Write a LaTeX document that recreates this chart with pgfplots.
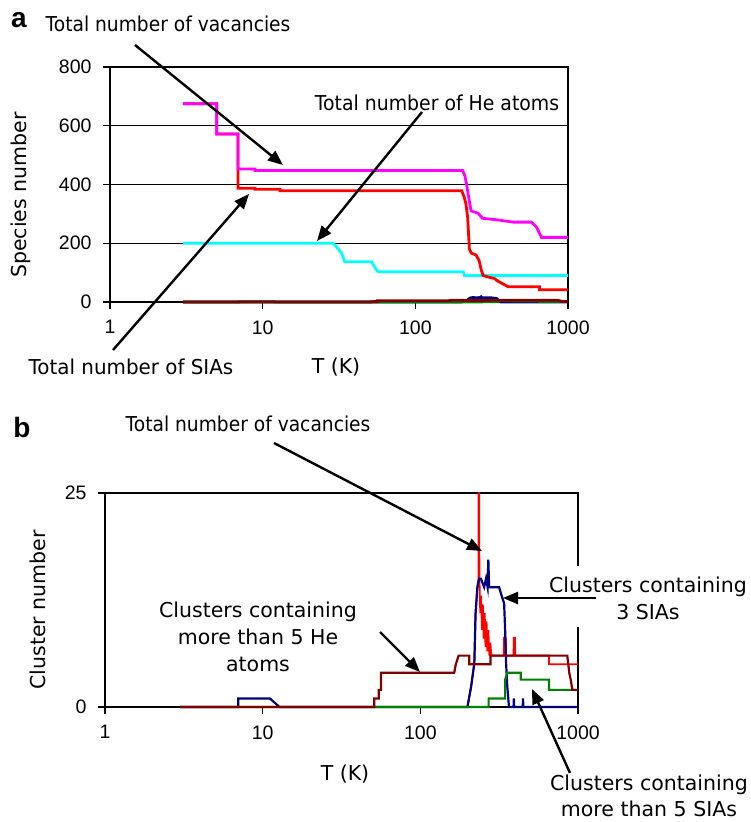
\documentclass[border=0pt]{standalone}
\usepackage{fontspec}
\setmainfont{Liberation Sans}
\newfontfamily\comic{DejaVu Sans}
\usepackage{pgfplots}
\pgfplotsset{compat=1.18}
\usetikzlibrary{arrows.meta}

\definecolor{cMag}{HTML}{FF00FF}
\definecolor{cRed}{HTML}{FF0000}
\definecolor{cCyan}{HTML}{00FFFF}
\definecolor{cNavy}{HTML}{000080}
\definecolor{cDark}{HTML}{800000}
\definecolor{cGreen}{HTML}{008000}

\newcommand\ann{\comic\fontsize{20.5}{24}\selectfont}

% cluster series, shared by both panels
\newcommand\navydata{(3,0) (7,0) (7,1) (11.1,1) (12.8,0) (199,0) (210,2.4) (220,5.1) (224,10.9) (230,14) (236,15) (242,15) (254,14) (261,15) (267,14) (270,17.2) (273,14) (316,14) (324,13.3) (340,12.1) (345,9) (350,5.1) (356,2.4) (365,0) (390,0) (392,1) (394,0) (446,0) (448,1) (450,0) (1000,0)}
\newcommand\greendata{(3,0) (271,0) (271,1) (345,1) (345,3.2) (356,4) (434,4) (434,3.2) (654,3.2) (654,2) (1000,2)}
\newcommand\darkdata{(3,0) (51,0) (51,1) (54.5,1) (54.5,2) (56.3,2) (56.3,4) (164,4) (168,5) (175,6) (204,6) (204,5) (279,5) (279,6) (855,6) (880,4) (899,3.2) (921,2) (1000,2)}

\begin{document}
\begin{tikzpicture}
\useasboundingbox (0pt,0pt) rectangle (750pt,-822pt);
\pgfplotsset{
  every axis/.append style={
    scale only axis, xmode=log, xmin=1, xmax=1000, clip=false,
    xtick={1,10,100,1000}, xticklabels={1,10,100,1000},
    xminorticks=false, yminorticks=false,
    tick pos=left, tick align=outside, major tick length=7pt,
    axis line style={line width=1.6pt},
    tick style={black, line width=1.2pt},
    ticklabel style={font=\fontsize{19.5}{22}\selectfont},
    xticklabel style={yshift=-8pt},
    yticklabel style={xshift=-8pt},
    /pgf/number format/assume math mode=true,
  }
}

% panel a
\begin{axis}[at={(110pt,-302pt)}, anchor=south west, width=458pt, height=235pt,
  ymin=0, ymax=800, ytick={0,200,400,600,800},
  ymajorgrids, grid style={black, line width=0.9pt},
  every axis plot/.append style={line width=2.8pt}]
\addplot[cNavy] coordinates {\navydata};
\addplot[cGreen] coordinates {\greendata};
\addplot[cDark] coordinates {\darkdata};
\addplot[cCyan] coordinates {
(3,200) (29,200) (30.4,188) (32.9,166) (34.5,137) (51.7,137) (54,120) (57,103) (206,103) (210,90) (1000,90)
};
\addplot[cRed] coordinates {
(3,675) (5,675) (5,572) (6.9,572) (6.9,387) (8.9,387) (8.9,384) (13,384) (13,379) (201,379) (208,360) (214,337) (220,290) (226,180) (233,166) (250,160) (262,140) (270,110) (278,90) (300,85) (330,80) (350,70) (380,60) (405,52) (650,52) (650,42) (1000,42)
};
\addplot[cMag] coordinates {
(3,675) (5,675) (5,572) (6.9,572) (6.9,453) (8.9,453) (8.9,448) (204,448) (211,430) (216,404) (227,336) (232,310) (258,302) (275,285) (340,280) (438,272) (575,272) (620,256) (660,228) (670,220) (1000,220)
};
\end{axis}

% panel b
\begin{axis}[at={(105pt,-707pt)}, anchor=south west, width=473pt, height=214pt,
  ymin=0, ymax=25, ytick={0,25},
  every axis plot/.append style={line width=2.2pt}]
\addplot[cRed, line width=1.8pt] coordinates {
(3,0) (199,0) (210,2.4) (220,5.1) (224,10.9) (230,14) (234,15) (234,25) (236,25) (237,15) (240,11) (243,13) (246,9) (249,12) (252,8) (256,11) (259,7) (263,10) (266,6.5) (270,9) (274,6) (278,7.5) (282,6) (338,6) (340,8.2) (342,6) (348,8.2) (350,6) (390,6) (392,8.2) (394,6) (398,8.2) (400,6) (654,6) (654,5) (1000,5)
};
\addplot[cNavy] coordinates {\navydata};
\addplot[cGreen] coordinates {\greendata};
\addplot[cDark] coordinates {\darkdata};
\end{axis}

\begin{scope}[x=1pt, y=-1pt]
% panel labels
\node[font=\bfseries\fontsize{28}{30}\selectfont, anchor=base, inner sep=0] at (19,27) {a};
\node[font=\bfseries\fontsize{28}{30}\selectfont, anchor=base, inner sep=0] at (22,437) {b};

% panel a texts
\node[font=\ann, anchor=base, inner sep=0, xscale=0.91] at (168,31) {Total number of vacancies};
\node[font=\ann, anchor=base, inner sep=0, xscale=0.92] at (437,110) {Total number of He atoms};
\node[font=\ann, anchor=base, inner sep=0, xscale=0.97] at (131,374) {Total number of SIAs};
\node[font=\ann, anchor=base, inner sep=0] at (336,373) {T (K)};
\node[font=\ann, anchor=base, inner sep=0, rotate=90] at (26,195) {Species number};
\draw[line width=2.4pt, -{Triangle[length=15pt,width=12pt]}] (135,45) -- (283,165);
\draw[line width=2.4pt, -{Triangle[length=15pt,width=12pt]}] (422,112) -- (317,241);
\draw[line width=2.4pt, -{Triangle[length=15pt,width=12pt]}] (113,350) -- (249,194);

% panel b texts
\node[font=\ann, anchor=base, inner sep=0, xscale=0.91] at (248,431) {Total number of vacancies};
\node[font=\ann, anchor=base, inner sep=0] at (345,780) {T (K)};
\node[font=\ann, anchor=base, inner sep=0, rotate=90] at (45,610) {Cluster number};
\node[font=\ann, anchor=base, inner sep=0] at (258,617) {Clusters containing};
\node[font=\ann, anchor=base, inner sep=0] at (258,644) {more than 5 He};
\node[font=\ann, anchor=base, inner sep=0] at (258,671) {atoms};
\fill[white] (545,566) rectangle (750,627);
\node[font=\ann, anchor=base, inner sep=0] at (648,592) {Clusters containing};
\node[font=\ann, anchor=base, inner sep=0] at (648,619) {3 SIAs};
\node[font=\ann, anchor=base, inner sep=0] at (649,790) {Clusters containing};
\node[font=\ann, anchor=base, inner sep=0] at (649,816) {more than 5 SIAs};
\draw[line width=2.4pt, -{Triangle[length=15pt,width=12pt]}] (274,443) -- (482,551);
\draw[line width=2.4pt, -{Triangle[length=15pt,width=12pt]}] (380,632) -- (420,672);
\draw[line width=2.4pt, -{Triangle[length=15pt,width=12pt]}] (596,598) -- (503,598);
\draw[line width=2.4pt, -{Triangle[length=15pt,width=12pt]}] (570,773) -- (532,689);
\end{scope}
\end{tikzpicture}
\end{document}
